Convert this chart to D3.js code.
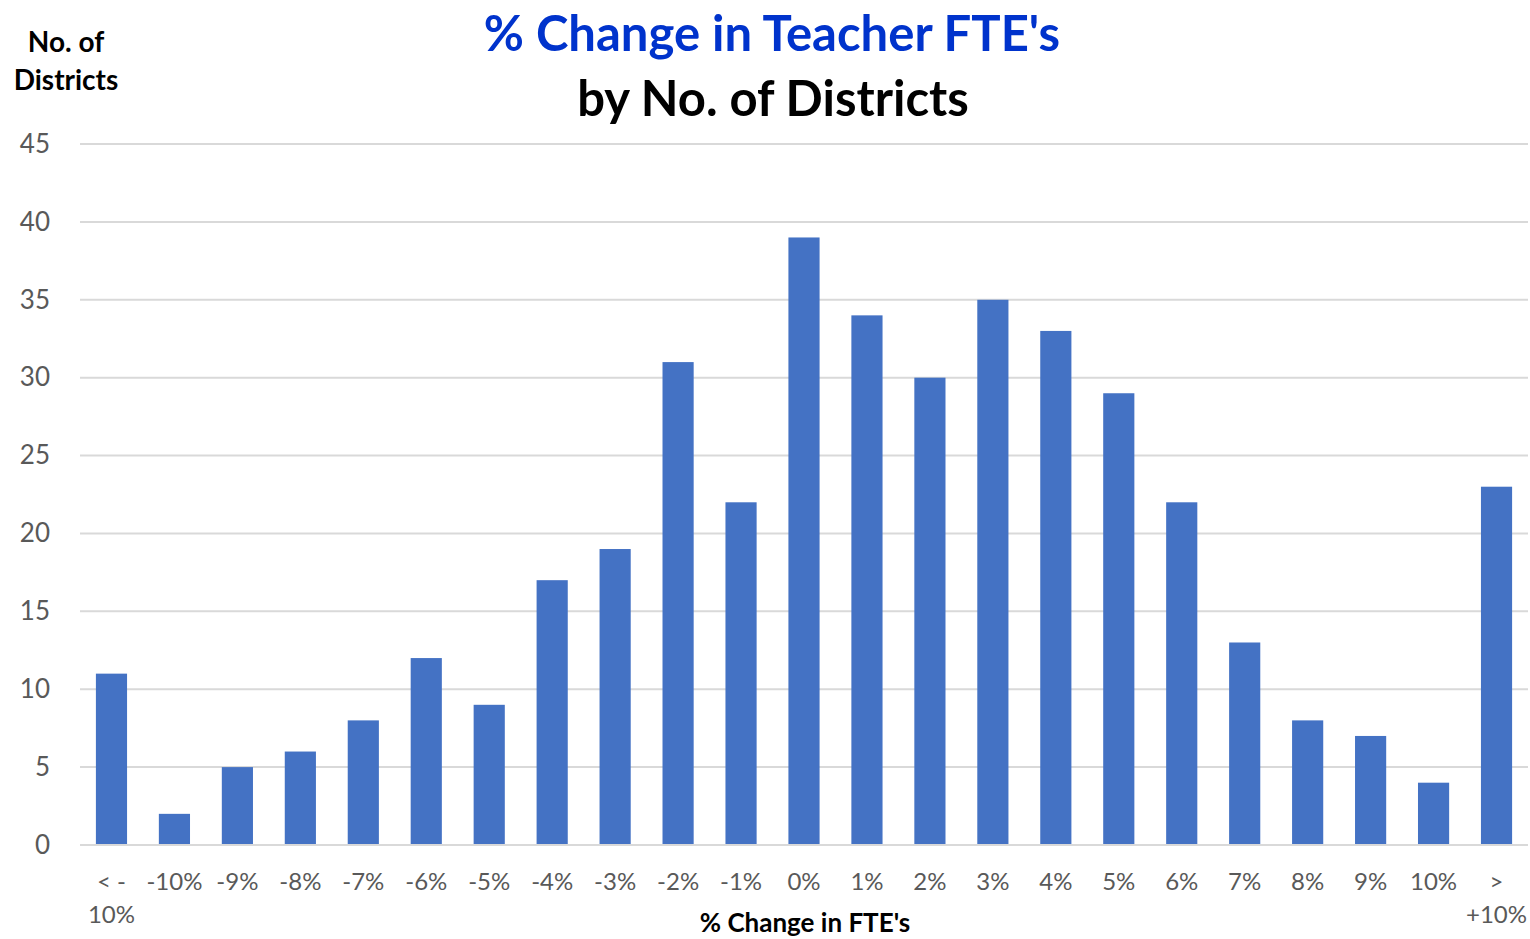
<!DOCTYPE html>
<html>
<head>
<meta charset="utf-8">
<script src="https://cdn.jsdelivr.net/npm/d3@7"></script>
<style>
  body { margin: 0; background: #fff; }
  text { font-family: Lato, "Open Sans", sans-serif; }
</style>
</head>
<body>
<script>
var categories = ['< - 10%', '-10%', '-9%', '-8%', '-7%', '-6%', '-5%', '-4%', '-3%', '-2%', '-1%',
  '0%', '1%', '2%', '3%', '4%', '5%', '6%', '7%', '8%', '9%', '10%', '> +10%'];
var districts = [11, 2, 5, 6, 8, 12, 9, 17, 19, 31, 22, 39, 34, 30, 35, 33, 29, 22, 13, 8, 7, 4, 23];
var yTicks = [0, 5, 10, 15, 20, 25, 30, 35, 40, 45];

var W = 1530, H = 939;
var margin = {top: 144, right: 2, bottom: 94, left: 80},
    width = W - margin.left - margin.right,
    height = H - margin.top - margin.bottom;

var svg = d3.select('body').append('svg')
    .attr('width', W)
    .attr('height', H);

var g = svg.append('g')
    .attr('transform', 'translate(' + margin.left + ',' + margin.top + ')');

var x = d3.scaleBand().domain(categories).range([0, width]).paddingInner(0.505).paddingOuter(0.2525);
var y = d3.scaleLinear().domain([0, 45]).range([height, 0]);

// gridlines
g.append('g').selectAll('line')
    .data(yTicks.filter(function(d) { return d > 0; }))
  .enter().append('line')
    .attr('x1', 0).attr('x2', width)
    .attr('y1', function(d) { return y(d); })
    .attr('y2', function(d) { return y(d); })
    .attr('stroke', '#d9d9d9').attr('stroke-width', 2);

// y tick labels
var yAxis = g.append('g').call(d3.axisLeft(y).tickValues(yTicks).tickSize(0).tickPadding(30));
yAxis.select('.domain').remove();
yAxis.selectAll('text')
    .attr('fill', '#595959').style('font-size', '26px')
    .style('font-family', 'Lato, "Open Sans", sans-serif');

// bars
g.append('g').selectAll('rect')
    .data(districts)
  .enter().append('rect')
    .attr('x', function(d, i) { return x(categories[i]); })
    .attr('y', function(d) { return y(d); })
    .attr('width', x.bandwidth())
    .attr('height', function(d) { return height - y(d); })
    .attr('fill', '#4472c4');

// baseline
g.append('line')
    .attr('x1', 0).attr('x2', width)
    .attr('y1', height).attr('y2', height)
    .attr('stroke', '#d9d9d9').attr('stroke-width', 2);

// x tick labels (wrapped at the space before a second part)
var xl = g.append('g').selectAll('text')
    .data(categories)
  .enter().append('text')
    .attr('x', function(d) { return x(d) + x.bandwidth() / 2; })
    .attr('y', height + 45)
    .attr('text-anchor', 'middle')
    .attr('fill', '#595959')
    .style('font-size', '24px');
xl.each(function(d) {
  var parts = d.indexOf('10%') > 0 && d.length > 4 ? [d.slice(0, d.lastIndexOf(' ')), d.slice(d.lastIndexOf(' ') + 1)] : [d];
  var t = d3.select(this);
  parts.forEach(function(p, i) {
    t.append('tspan').attr('x', t.attr('x')).attr('dy', i ? 33 : 0).text(p);
  });
});

// titles
svg.append('text')
    .attr('x', 772).attr('y', 51)
    .attr('text-anchor', 'middle')
    .attr('fill', '#0033cc')
    .style('font-size', '49px').style('font-weight', 'bold')
    .text("% Change in Teacher FTE's");
svg.append('text')
    .attr('x', 773).attr('y', 116)
    .attr('text-anchor', 'middle')
    .attr('fill', '#000')
    .style('font-size', '49px').style('font-weight', 'bold')
    .text('by No. of Districts');

svg.append('text')
    .attr('x', 66).attr('y', 52)
    .attr('text-anchor', 'middle')
    .style('font-size', '28px').style('font-weight', 'bold')
    .text('No. of');
svg.append('text')
    .attr('x', 66).attr('y', 90)
    .attr('text-anchor', 'middle')
    .style('font-size', '28px').style('font-weight', 'bold')
    .text('Districts');

svg.append('text')
    .attr('x', 805).attr('y', 932)
    .attr('text-anchor', 'middle')
    .style('font-size', '26px').style('font-weight', 'bold')
    .text("% Change in FTE's");
</script>
</body>
</html>
